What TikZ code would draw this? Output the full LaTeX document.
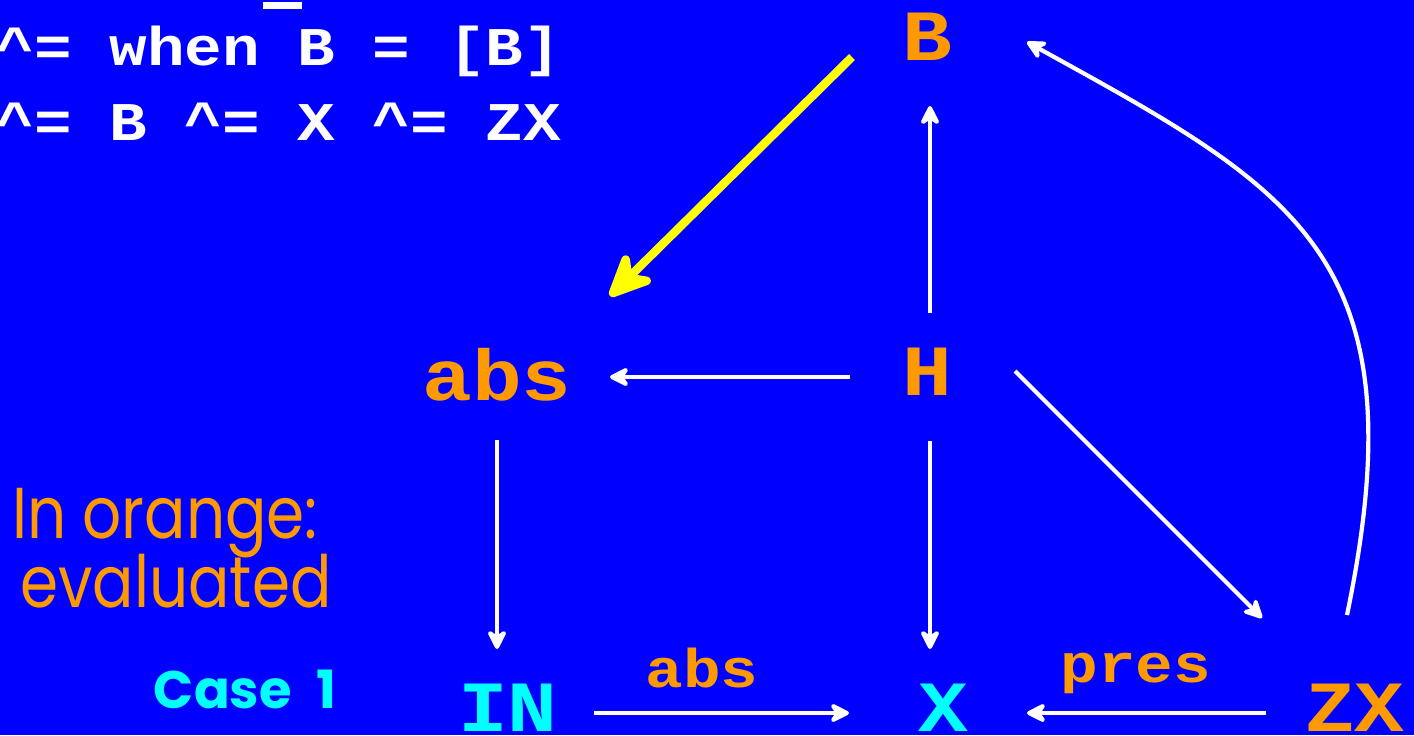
\documentclass[tikz,border=0pt]{standalone}
\usepackage{fontspec}
\setmonofont{Liberation Mono}[FakeStretch=1.15]
\newfontfamily\notefont[FakeStretch=0.85]{Poppins}
\newfontfamily\casefont[WordSpace=2.2]{Poppins}
\usetikzlibrary{arrows.meta,calc}
\definecolor{slideblue}{RGB}{0,0,255}
\definecolor{evalorange}{RGB}{255,153,0}
\definecolor{sigcyan}{RGB}{0,255,255}
\definecolor{hotyellow}{RGB}{255,255,0}
\tikzset{
  >={Stealth[length=2.4mm,width=2.4mm,inset=0.8mm,round]},
  sig/.style={font=\fontsize{20.5}{24}\selectfont\ttfamily\bfseries,
    inner sep=0pt,anchor=center},
  evsig/.style={sig,text=evalorange},
  insig/.style={sig,text=sigcyan},
  eqline/.style={font=\fontsize{15.5}{19}\selectfont\ttfamily\bfseries,
    text=white,inner sep=0pt,anchor=base west},
  flow/.style={->,draw=white,line width=1.2pt},
  hotflow/.style={-{Stealth[length=5.5mm,width=5mm,inset=1.8mm,round]},
    draw=hotyellow,line width=2.4pt},
  flowlbl/.style={font=\fontsize{15.5}{19}\selectfont\ttfamily\bfseries,
    text=evalorange,inner sep=0pt,anchor=base},
  notetxt/.style={font=\fontsize{20.5}{24}\selectfont\notefont,
    text=evalorange,inner sep=0pt,anchor=base},
  casetxt/.style={font=\fontsize{15}{18}\selectfont\casefont\bfseries,
    text=sigcyan,inner sep=0pt,anchor=base},
}
\begin{document}
\begin{tikzpicture}[x=0.01cm,y=-0.01cm]
  \fill[slideblue] (0,0) rectangle (1414,735);
  \useasboundingbox (0,0) rectangle (1414,735);
  % clock equations
  \node[eqline] (eq1) at (-4,65) {\textasciicircum= when B = [B]};
  \node[eqline] (eq2) at (-4,140) {\textasciicircum= B \textasciicircum= X \textasciicircum= ZX};
  \fill[white] (263,2) rectangle (302,9);
  % signals
  \node[evsig] (B) at (927,37) {B};
  \node[evsig] (H) at (927,372) {H};
  \node[evsig] (abs) at (497,375) {abs};
  \node[insig] (IN) at (508,708) {IN};
  \node[insig] (X) at (943,708) {X};
  \node[evsig] (ZX) at (1355,708) {ZX};
  \node[flowlbl] (abslbl) at (702,687) {abs};
  \node[flowlbl] (preslbl) at (1136,682) {pres};
  \node[notetxt] (note1) at (165,538) {In orange:};
  \node[notetxt] (note2) at (176,607) {evaluated};
  \node[casetxt] (case) at (245,708) {Case 1};
  % dependencies
  \draw[hotflow] ($(B)+(-75,20)$) -- ($(abs)+(113,-79)$);
  \draw[flow] ($(H)+(3,-59)$) -- ($(B)+(3,69)$);
  \draw[flow] ($(H)+(-77,5)$) -- ($(abs)+(113,2)$);
  \draw[flow] ($(abs)+(0,65)$) -- ($(IN)+(-11,-59)$);
  \draw[flow] ($(H)+(3,69)$) -- ($(X)+(-13,-59)$);
  \draw[flow] ($(H)+(88,-1)$) -- ($(ZX)+(-93,-90)$);
  \draw[flow] ($(IN)+(86,5)$) -- ($(X)+(-94,5)$);
  \draw[flow] ($(ZX)+(-89,5)$) -- ($(X)+(84,5)$);
  \draw[flow] ($(ZX)+(-8,-93)$) .. controls +(75,-360) and +(268,148) .. ($(B)+(100,5)$);
\end{tikzpicture}
\end{document}
